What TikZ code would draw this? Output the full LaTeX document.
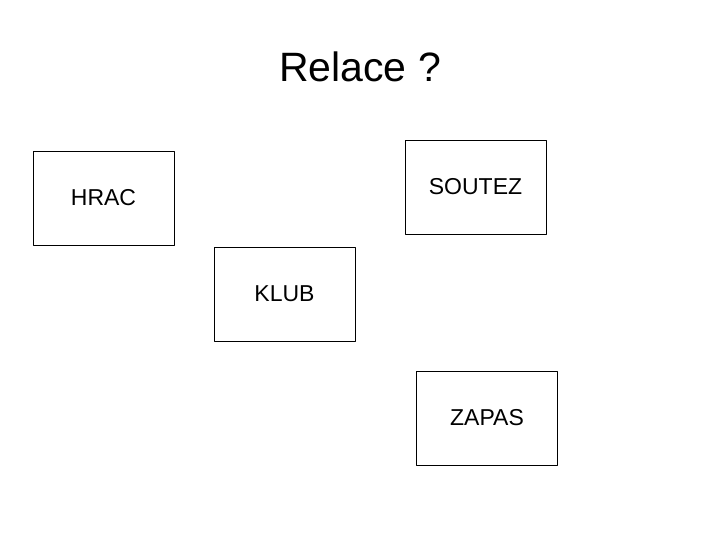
\documentclass[tikz,border=0pt]{standalone}
\usepackage{fontspec}
\setmainfont{Liberation Sans}
\begin{document}
\begin{tikzpicture}[x=1pt, y=-1pt, line join=round, line cap=round,
    entity/.style={draw, line width=0.8pt, minimum width=141pt, minimum height=94pt, inner sep=0pt, font=\fontsize{23}{27}\selectfont}]
	\useasboundingbox (0,0) rectangle (720,540);
	\path (360,82) node[anchor=base, font=\fontsize{41}{48}\selectfont] (title) {Relace ?};
	\path (103.5,198) node[entity] (hrac) {HRAC};
	\path (475.5,187) node[entity] (soutez) {SOUTEZ};
	\path (284.5,294) node[entity] (klub) {KLUB};
	\path (487,418) node[entity] (zapas) {ZAPAS};
\end{tikzpicture}
\end{document}
